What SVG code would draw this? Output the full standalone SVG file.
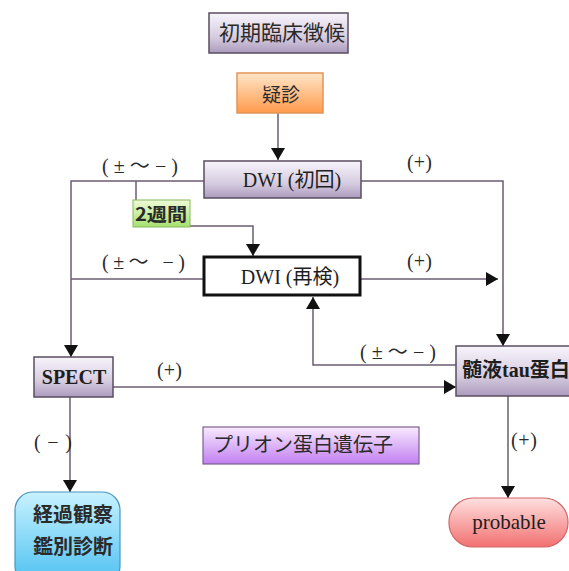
<svg xmlns="http://www.w3.org/2000/svg" width="569" height="571" viewBox="0 0 569 571">
<style>
.box{stroke:#5a4e60;stroke-width:1.5}
.conn{fill:none;stroke:#6a5c72;stroke-width:1.5}
.lbl{font-family:"Liberation Serif","Noto Sans CJK JP",serif;font-size:20px;fill:#2a2a2a}
.jp{font-family:"Noto Sans CJK JP",sans-serif;fill:#2a2a2a}
.ser{font-family:"Liberation Serif","Times New Roman",serif;fill:#1e1e1e}
.cjk{font-family:"Noto Sans CJK JP",sans-serif}
</style>
<defs>
<linearGradient id="gPur" x1="0" y1="0" x2="0" y2="1">
<stop offset="0" stop-color="#f7f4fb"/><stop offset="0.6" stop-color="#d6cce0"/><stop offset="1" stop-color="#ac9bbd"/>
</linearGradient>
<linearGradient id="gOr" x1="0" y1="0" x2="0" y2="1">
<stop offset="0" stop-color="#ffe6c8"/><stop offset="1" stop-color="#ff9a4c"/>
</linearGradient>
<linearGradient id="gGr" x1="0" y1="0" x2="0" y2="1">
<stop offset="0" stop-color="#eefbd8"/><stop offset="1" stop-color="#a6e070"/>
</linearGradient>
<linearGradient id="gCy" x1="0" y1="0" x2="0" y2="1">
<stop offset="0" stop-color="#c8f2ff"/><stop offset="1" stop-color="#4cc0f0"/>
</linearGradient>
<linearGradient id="gPk" x1="0" y1="0" x2="0" y2="1">
<stop offset="0" stop-color="#ffe0e0"/><stop offset="1" stop-color="#f27070"/>
</linearGradient>
<linearGradient id="gVi" x1="0" y1="0" x2="0" y2="1">
<stop offset="0" stop-color="#f8eaff"/><stop offset="1" stop-color="#c27ff0"/>
</linearGradient>
<marker id="arr" markerWidth="12" markerHeight="14" refX="12" refY="7" orient="auto" markerUnits="userSpaceOnUse">
<path d="M0,0 L12,7 L0,14 Z" fill="#111"/>
</marker>
</defs>
<rect width="569" height="571" fill="#ffffff"/>

<g id="connectors">
<path class="conn" d="M278,113 V160" marker-end="url(#arr)"/>
<path class="conn" d="M204,181 H71 V357" marker-end="url(#arr)"/>
<path class="conn" d="M136,181 V200"/>
<path class="conn" d="M190,226 H253 V256" marker-end="url(#arr)"/>
<path class="conn" d="M203,279 H71"/>
<path class="conn" d="M361,279 H498" marker-end="url(#arr)"/>
<path class="conn" d="M361,181 H503 V346" marker-end="url(#arr)"/>
<path class="conn" d="M456,365 H313 V297" marker-end="url(#arr)"/>
<path class="conn" d="M113,387 H456" marker-end="url(#arr)"/>
<path class="conn" d="M70,397 V492" marker-end="url(#arr)"/>
<path class="conn" d="M508,396 V498" marker-end="url(#arr)"/>
<text class="lbl" x="102" y="173" textLength="76" lengthAdjust="spacing">(±～−)</text>
<text class="lbl" x="102" y="269" textLength="83" lengthAdjust="spacing">(±～ −)</text>
<text class="lbl" x="407" y="169" textLength="25" lengthAdjust="spacing">(+)</text>
<text class="lbl" x="407" y="268" textLength="25" lengthAdjust="spacing">(+)</text>
<text class="lbl" x="360" y="359" textLength="76" lengthAdjust="spacing">(±～−)</text>
<text class="lbl" x="157" y="377" textLength="25" lengthAdjust="spacing">(+)</text>
<text class="lbl" x="34" y="449" textLength="38" lengthAdjust="spacing">(−)</text>
<text class="lbl" x="511" y="447" textLength="26" lengthAdjust="spacing">(+)</text>
</g>

<g id="initial">
<rect class="box" x="209" y="13" width="139" height="40" fill="url(#gPur)"/>
<text class="jp" x="282" y="40" font-size="21" text-anchor="middle">初期臨床徴候</text>
</g>
<g id="suspect">
<rect x="237" y="73" width="86" height="40" fill="url(#gOr)" stroke="#e0955a" stroke-width="1.5"/>
<text class="jp" x="281" y="102" font-size="19" text-anchor="middle">疑診</text>
</g>
<g id="dwi1">
<rect class="box" x="204" y="161" width="157" height="37" fill="url(#gPur)"/>
<text class="ser" x="292" y="187" font-size="20" text-anchor="middle" font-family="Liberation Serif, serif">DWI (<tspan class="cjk">初回</tspan>)</text>
</g>
<g id="twoweeks">
<rect x="133" y="200" width="57" height="27" fill="url(#gGr)" stroke="#86b85a" stroke-width="1"/>
<text class="jp" x="161" y="221" font-size="18" font-weight="bold" text-anchor="middle" textLength="52" lengthAdjust="spacingAndGlyphs">2週間</text>
</g>
<g id="dwi2">
<rect x="204" y="257" width="156" height="38" fill="#ffffff" stroke="#111" stroke-width="3"/>
<text class="ser" x="290" y="284" font-size="20" text-anchor="middle" font-family="Liberation Serif, serif">DWI (<tspan class="cjk">再検</tspan>)</text>
</g>
<g id="spect">
<rect class="box" x="34" y="357" width="79" height="40" fill="url(#gPur)"/>
<text class="ser" x="74" y="384" font-size="20" font-weight="bold" text-anchor="middle">SPECT</text>
</g>
<g id="tau">
<rect class="box" x="456" y="346" width="120" height="50" fill="url(#gPur)"/>
<text class="ser" x="462" y="377" font-size="20" font-weight="bold"><tspan class="cjk">髄液</tspan>tau<tspan class="cjk">蛋白</tspan></text>
</g>
<g id="prion">
<rect x="203" y="427" width="216" height="37" fill="url(#gVi)" stroke="#7a6090" stroke-width="1.2"/>
<text class="jp" x="303" y="452" font-size="20" text-anchor="middle">プリオン蛋白遺伝子</text>
</g>
<g id="observe">
<rect x="15" y="492" width="105" height="92" rx="18" ry="18" fill="url(#gCy)" stroke="#4a94c0" stroke-width="1.2"/>
<text class="jp" x="73" y="522" font-size="20" font-weight="bold" text-anchor="middle">経過観察</text>
<text class="jp" x="73" y="554" font-size="20" font-weight="bold" text-anchor="middle">鑑別診断</text>
</g>
<g id="probable">
<rect x="449" y="498" width="119" height="49" rx="24" ry="24" fill="url(#gPk)" stroke="#d06868" stroke-width="1.2"/>
<text class="ser" x="509" y="529" font-size="21" text-anchor="middle" font-family="Liberation Serif, serif">probable</text>
</g>
</svg>
